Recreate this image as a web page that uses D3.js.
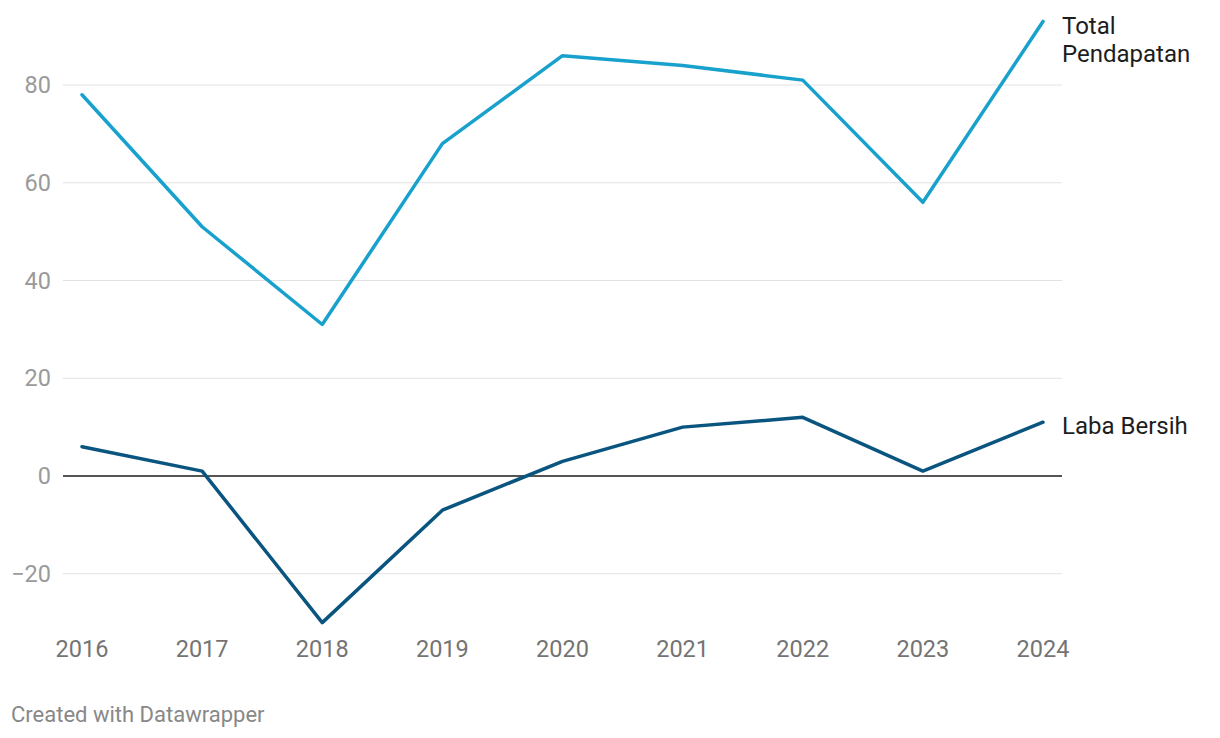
<!DOCTYPE html>
<html>
<head>
<meta charset="utf-8">
<script src="https://cdn.jsdelivr.net/npm/d3@7"></script>
<style>
body { margin: 0; background: #fff; font-family: Roboto, sans-serif; }
.grid line { stroke: #e2e2e2; stroke-width: 1; }
.ylab { fill: #9a9a9a; font-size: 23.5px; }
.xlab { fill: #747474; font-size: 23.5px; }
.serlab { fill: #1d1d1d; font-size: 24px; }
.credit { fill: #888; font-size: 22px; }
</style>
</head>
<body>
<div id="chart"></div>
<script>
// values
var years = [2016, 2017, 2018, 2019, 2020, 2021, 2022, 2023, 2024];
var totalPendapatan = [78, 51, 31, 68, 86, 84, 81, 56, 93];
var labaBersih = [6, 1, -30, -7, 3, 10, 12, 1, 11];
var yTicks = [-20, 0, 20, 40, 60, 80];

var W = 1220, H = 738;

var svg = d3.select('#chart').append('svg')
  .attr('width', W)
  .attr('height', H);

var x = d3.scalePoint()
  .domain(years)
  .range([82, 1043]);

var y = d3.scaleLinear()
  .domain([0, 80])
  .range([476, 85]);

// gridlines
var grid = svg.append('g').attr('class', 'grid');
grid.selectAll('line')
  .data(yTicks.filter(function(d){ return d != 0; }))
  .enter().append('line')
  .attr('x1', 63)
  .attr('x2', 1062)
  .attr('y1', function(d){ return y(d); })
  .attr('y2', function(d){ return y(d); });

svg.selectAll('.ylab')
  .data(yTicks)
  .enter().append('text')
  .attr('class', 'ylab')
  .attr('x', 51)
  .attr('y', function(d){ return y(d); })
  .attr('dy', '0.35em')
  .attr('text-anchor', 'end')
  .text(function(d){ return d < 0 ? '\u2212' + Math.abs(d) : d; });

// zero baseline
svg.append('line')
  .attr('x1', 63)
  .attr('x2', 1062)
  .attr('y1', y(0))
  .attr('y2', y(0))
  .attr('stroke', '#1d1d1d')
  .attr('stroke-width', 1.3);

svg.selectAll('.xlab')
  .data(years)
  .enter().append('text')
  .attr('class', 'xlab')
  .attr('x', function(d){ return x(d); })
  .attr('y', 657)
  .attr('text-anchor', 'middle')
  .text(function(d){ return d; });

var line = d3.line()
  .x(function(d, i){ return x(years[i]); })
  .y(function(d){ return y(d); });

svg.append('path')
  .datum(totalPendapatan)
  .attr('d', line)
  .attr('fill', 'none')
  .attr('stroke', '#18a1cd')
  .attr('stroke-width', 3.5)
  .attr('stroke-linejoin', 'round')
  .attr('stroke-linecap', 'round');

svg.append('path')
  .datum(labaBersih)
  .attr('d', line)
  .attr('fill', 'none')
  .attr('stroke', '#09557f')
  .attr('stroke-width', 3.5)
  .attr('stroke-linejoin', 'round')
  .attr('stroke-linecap', 'round');

// series labels
var tl = svg.append('text')
  .attr('class', 'serlab')
  .attr('x', 1062)
  .attr('y', 34);
tl.append('tspan').attr('x', 1062).text('Total');
tl.append('tspan').attr('x', 1062).attr('dy', 28).text('Pendapatan');

svg.append('text')
  .attr('class', 'serlab')
  .attr('x', 1062)
  .attr('y', y(labaBersih[labaBersih.length - 1]))
  .attr('dy', 12)
  .text('Laba Bersih');

svg.append('text')
  .attr('class', 'credit')
  .attr('x', 11)
  .attr('y', 722)
  .text('Created with Datawrapper');
</script>
</body>
</html>
